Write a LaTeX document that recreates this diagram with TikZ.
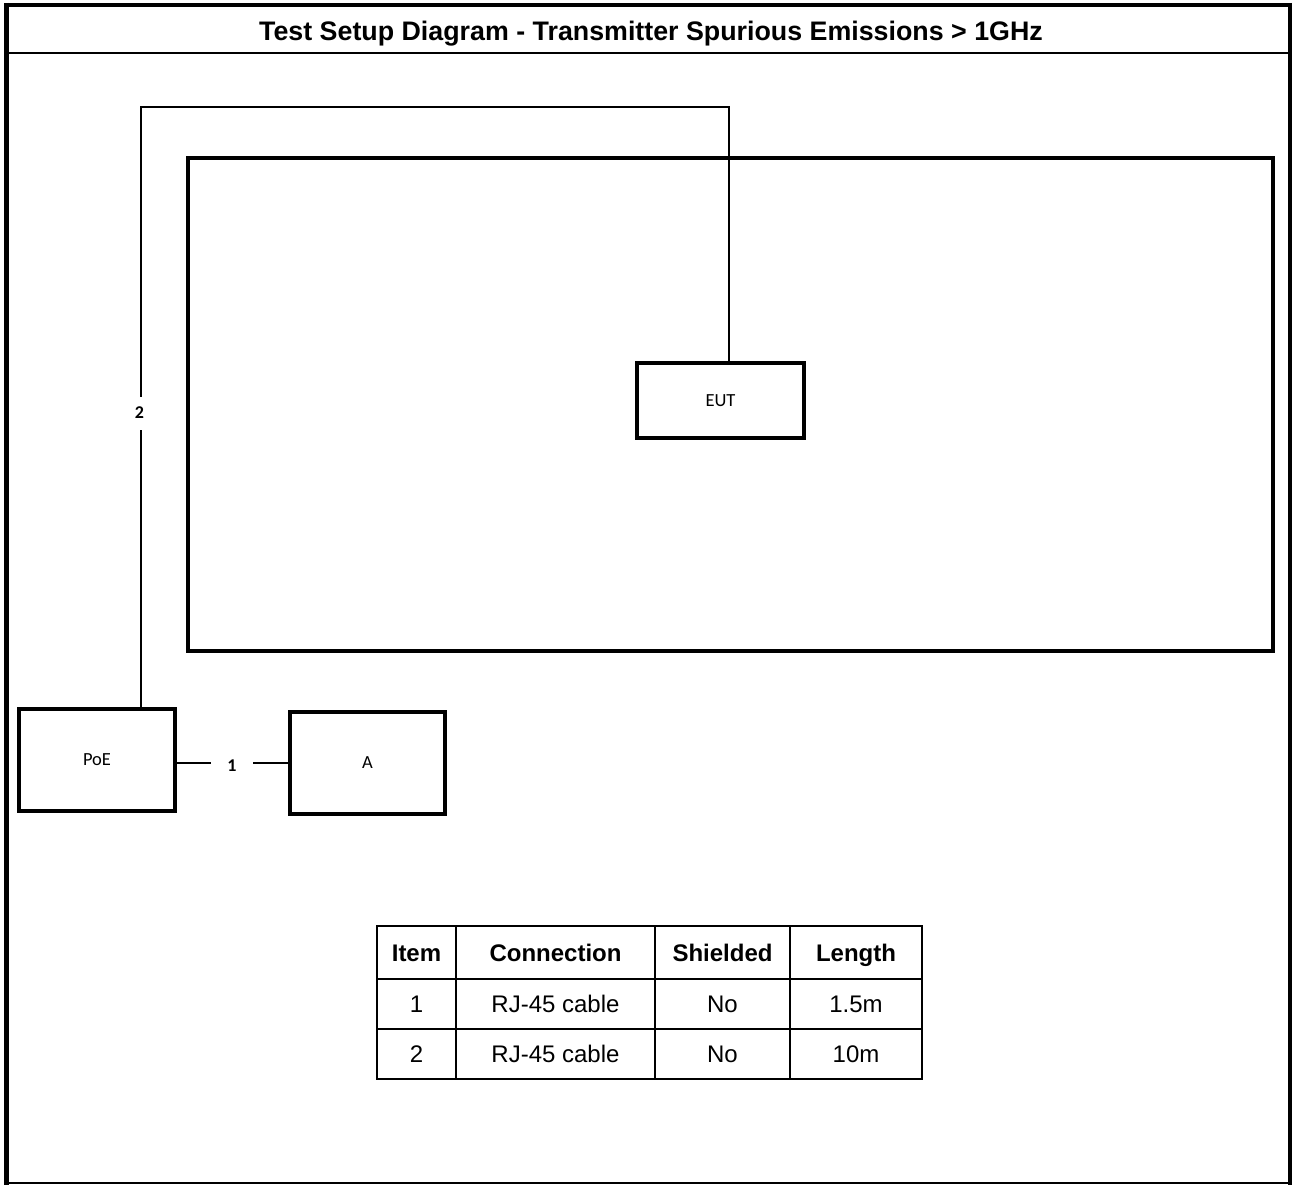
\documentclass[tikz,border=0pt]{standalone}
\usepackage{fontspec}
\setmainfont{Liberation Sans}
\newfontfamily\calib{Carlito}
\begin{document}
\begin{tikzpicture}[x=1pt,y=-1pt,
  box/.style={draw, line width=3.2pt, inner sep=0pt, font=\calib\fontsize{18.5}{20}\selectfont},
  cable/.style={line width=2pt},
  cablelabel/.style={fill=white, inner sep=0pt, font=\calib\bfseries\fontsize{18}{20}\selectfont},
  cell/.style={draw, line width=2.6pt, inner sep=0pt, text height=17.5pt, text depth=0.5pt, font=\fontsize{24}{28}\selectfont},
  head/.style={cell, font=\bfseries\fontsize{24}{28}\selectfont}]
\useasboundingbox (0,0) rectangle (1292,1185);
% outer frame
\draw[line width=2pt] (6,1183) -- (1289,1183);
\draw[line width=4.5pt] (6.5,3) -- (6.5,1185);
\draw[line width=4pt] (4,5) -- (1290,5);
\draw[line width=4pt] (1289.5,3) -- (1289.5,1185);
\draw[line width=2pt] (7,53) -- (1288,53);
\node[font=\bfseries\fontsize{26.8}{30}\selectfont, text height=19pt, text depth=0pt, inner sep=0pt] (title) at (651,31) {Test Setup Diagram - Transmitter Spurious Emissions > 1GHz};
% chamber / table area
\node[box, minimum width=1085pt, minimum height=493pt] (chamber) at (730.5,404.5) {};
% equipment
\node[box, minimum width=167pt, minimum height=75pt] (eut) at (720.5,400.5) {EUT};
\node[box, minimum width=156pt, minimum height=102pt] (poe) at (97,760) {PoE};
\node[box, minimum width=155pt, minimum height=102pt] (a) at (367.5,763) {A};
% cable 2
\coordinate (c2a) at (141,107);
\coordinate (c2b) at (729,107);
\draw[cable] (poe.north -| c2a) -- (c2a) -- (c2b) -- (eut.north -| c2b);
\node[cablelabel, minimum height=33pt, minimum width=10pt] (lab2) at (139.5,413) {2};
% cable 1
\draw[cable] (poe.east |- a.west) -- (a.west);
\node[cablelabel, minimum width=42pt, minimum height=12pt] (lab1) at (232,766) {1};
% table
\node[head, minimum width=79pt, minimum height=53pt] (h1) at (416.5,952.5) {Item};
\node[head, minimum width=199pt, minimum height=53pt] (h2) at (555.5,952.5) {Connection};
\node[head, minimum width=135pt, minimum height=53pt] (h3) at (722.5,952.5) {Shielded};
\node[head, minimum width=132pt, minimum height=53pt] (h4) at (856,952.5) {Length};
\node[cell, minimum width=79pt, minimum height=50pt] (r11) at (416.5,1004) {1};
\node[cell, minimum width=199pt, minimum height=50pt] (r12) at (555.5,1004) {RJ-45 cable};
\node[cell, minimum width=135pt, minimum height=50pt] (r13) at (722.5,1004) {No};
\node[cell, minimum width=132pt, minimum height=50pt] (r14) at (856,1004) {1.5m};
\node[cell, minimum width=79pt, minimum height=50pt] (r21) at (416.5,1054) {2};
\node[cell, minimum width=199pt, minimum height=50pt] (r22) at (555.5,1054) {RJ-45 cable};
\node[cell, minimum width=135pt, minimum height=50pt] (r23) at (722.5,1054) {No};
\node[cell, minimum width=132pt, minimum height=50pt] (r24) at (856,1054) {10m};
\end{tikzpicture}
\end{document}
